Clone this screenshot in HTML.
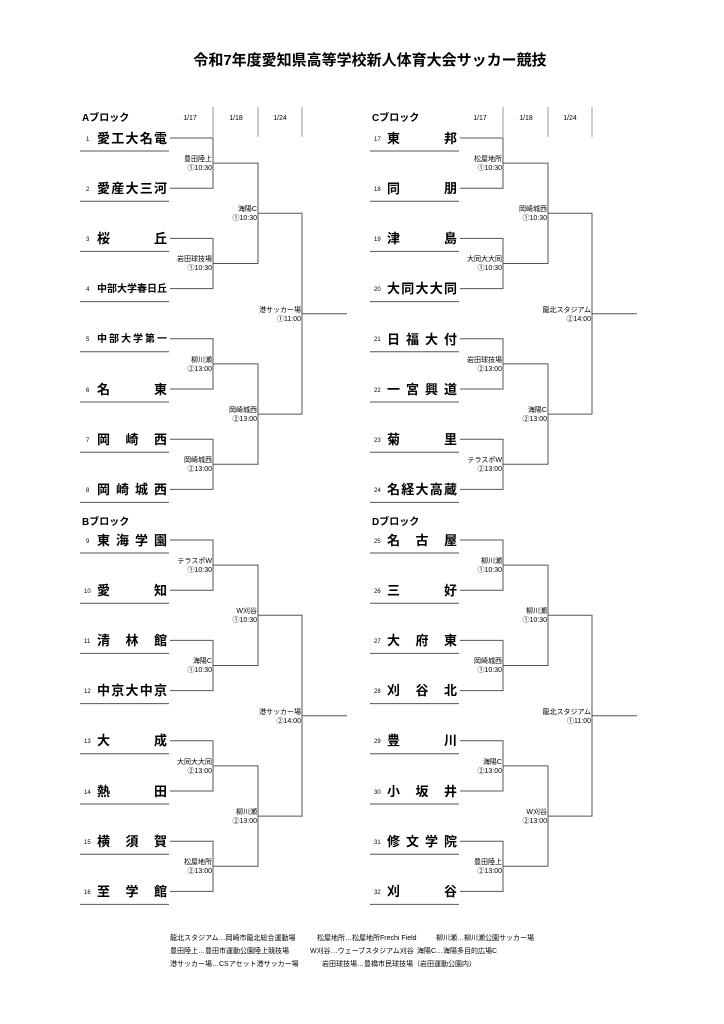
<!DOCTYPE html>
<html><head><meta charset="utf-8"><style>
body{margin:0;background:#fff}
svg{display:block;font-family:"Liberation Sans","Noto Sans CJK JP",sans-serif}
.t{font-size:13px;font-weight:bold}
.n{font-size:6px}
.v{font-size:7px;text-anchor:end}
.h{font-size:10px;font-weight:bold}
.d{font-size:7px;text-anchor:middle}
.f{font-size:7px}
</style></head><body>
<svg width="724" height="1024" viewBox="0 0 724 1024" xmlns="http://www.w3.org/2000/svg">
<text x="370" y="65" font-size="15" font-weight="bold" text-anchor="middle">令和7年度愛知県高等学校新人体育大会サッカー競技</text>
<g stroke="#999" stroke-width="1">
<line x1="213" y1="107" x2="213" y2="137"/><line x1="258" y1="107" x2="258" y2="137"/><line x1="302" y1="107" x2="302" y2="137"/>
<line x1="503" y1="107" x2="503" y2="137"/><line x1="548" y1="107" x2="548" y2="137"/><line x1="592" y1="107" x2="592" y2="137"/>
</g>
<text class="h" x="82" y="121">Aブロック</text><text class="h" x="372" y="121">Cブロック</text>
<text class="h" x="82" y="525">Bブロック</text><text class="h" x="372" y="525">Dブロック</text>
<text class="d" x="190" y="120">1/17</text><text class="d" x="236" y="120">1/18</text><text class="d" x="280" y="120">1/24</text>
<text class="d" x="480" y="120">1/17</text><text class="d" x="526" y="120">1/18</text><text class="d" x="570" y="120">1/24</text>

<g stroke="#555" stroke-width="1" fill="none">
<!-- A -->
<path d="M170 138H213V188.2H170 M170 238.4H213V288.6H170 M170 338.8H213V389H170 M170 439.2H213V489.4H170"/>
<path d="M213 163.1H258V263.5H213 M213 363.9H258V464.3H213 M258 213.3H302V414.1H258 M302 313.7H347"/>
<path d="M80 151H169 M80 201.2H169 M80 251.4H169 M80 301.6H169 M80 351.8H169 M80 402H169 M80 452.2H169 M80 502.4H169"/>
<!-- B -->
<path d="M170 540H213V590.2H170 M170 640.4H213V690.6H170 M170 740.8H213V791H170 M170 841.2H213V891.4H170"/>
<path d="M213 565.1H258V665.5H213 M213 765.9H258V866.3H213 M258 615.3H302V816.1H258 M302 715.7H347"/>
<path d="M80 553H169 M80 603.2H169 M80 653.4H169 M80 703.6H169 M80 753.8H169 M80 804H169 M80 854.2H169 M80 904.4H169"/>
<!-- C -->
<path d="M460 138H503V188.2H460 M460 238.4H503V288.6H460 M460 338.8H503V389H460 M460 439.2H503V489.4H460"/>
<path d="M503 163.1H548V263.5H503 M503 363.9H548V464.3H503 M548 213.3H592V414.1H548 M592 313.7H637"/>
<path d="M370 151H459 M370 201.2H459 M370 251.4H459 M370 301.6H459 M370 351.8H459 M370 402H459 M370 452.2H459 M370 502.4H459"/>
<!-- D -->
<path d="M460 540H503V590.2H460 M460 640.4H503V690.6H460 M460 740.8H503V791H460 M460 841.2H503V891.4H460"/>
<path d="M503 565.1H548V665.5H503 M503 765.9H548V866.3H503 M548 615.3H592V816.1H548 M592 715.7H637"/>
<path d="M370 553H459 M370 603.2H459 M370 653.4H459 M370 703.6H459 M370 753.8H459 M370 804H459 M370 854.2H459 M370 904.4H459"/>
</g>

<!-- team numbers -->
<g class="n">
<text x="86" y="141">1</text><text x="86" y="191">2</text><text x="86" y="241">3</text><text x="86" y="291">4</text><text x="86" y="341">5</text><text x="86" y="392">6</text><text x="86" y="442">7</text><text x="86" y="492">8</text>
<text x="86" y="543">9</text><text x="84" y="593">10</text><text x="84" y="643">11</text><text x="84" y="693">12</text><text x="84" y="743">13</text><text x="84" y="794">14</text><text x="84" y="844">15</text><text x="84" y="894">16</text>
<text x="374" y="141">17</text><text x="374" y="191">18</text><text x="374" y="241">19</text><text x="374" y="291">20</text><text x="374" y="341">21</text><text x="374" y="392">22</text><text x="374" y="442">23</text><text x="374" y="492">24</text>
<text x="374" y="543">25</text><text x="374" y="593">26</text><text x="374" y="643">27</text><text x="374" y="693">28</text><text x="374" y="743">29</text><text x="374" y="794">30</text><text x="374" y="844">31</text><text x="374" y="894">32</text>
</g>
<!-- team names -->
<g class="t">
<text x="97" y="143" textLength="70" lengthAdjust="spacing">愛工大名電</text>
<text x="97" y="193" textLength="70" lengthAdjust="spacing">愛産大三河</text>
<text x="97" y="243" textLength="70" lengthAdjust="spacing">桜丘</text>
<text x="97" y="292" font-size="10" textLength="70" lengthAdjust="spacingAndGlyphs">中部大学春日丘</text>
<text x="97" y="342" font-size="10" textLength="70" lengthAdjust="spacing">中部大学第一</text>
<text x="97" y="394" textLength="70" lengthAdjust="spacing">名東</text>
<text x="97" y="444" textLength="70" lengthAdjust="spacing">岡崎西</text>
<text x="97" y="494" textLength="70" lengthAdjust="spacing">岡崎城西</text>
<text x="97" y="545" textLength="70" lengthAdjust="spacing">東海学園</text>
<text x="97" y="595" textLength="70" lengthAdjust="spacing">愛知</text>
<text x="97" y="645" textLength="70" lengthAdjust="spacing">清林館</text>
<text x="97" y="695" textLength="70" lengthAdjust="spacing">中京大中京</text>
<text x="97" y="745" textLength="70" lengthAdjust="spacing">大成</text>
<text x="97" y="796" textLength="70" lengthAdjust="spacing">熱田</text>
<text x="97" y="846" textLength="70" lengthAdjust="spacing">横須賀</text>
<text x="97" y="896" textLength="70" lengthAdjust="spacing">至学館</text>
<text x="387" y="143" textLength="70" lengthAdjust="spacing">東邦</text>
<text x="387" y="193" textLength="70" lengthAdjust="spacing">同朋</text>
<text x="387" y="243" textLength="70" lengthAdjust="spacing">津島</text>
<text x="387" y="293" textLength="70" lengthAdjust="spacing">大同大大同</text>
<text x="387" y="344" textLength="70" lengthAdjust="spacing">日福大付</text>
<text x="387" y="394" textLength="70" lengthAdjust="spacing">一宮興道</text>
<text x="387" y="444" textLength="70" lengthAdjust="spacing">菊里</text>
<text x="387" y="494" textLength="70" lengthAdjust="spacing">名経大高蔵</text>
<text x="387" y="545" textLength="70" lengthAdjust="spacing">名古屋</text>
<text x="387" y="595" textLength="70" lengthAdjust="spacing">三好</text>
<text x="387" y="645" textLength="70" lengthAdjust="spacing">大府東</text>
<text x="387" y="695" textLength="70" lengthAdjust="spacing">刈谷北</text>
<text x="387" y="745" textLength="70" lengthAdjust="spacing">豊川</text>
<text x="387" y="796" textLength="70" lengthAdjust="spacing">小坂井</text>
<text x="387" y="846" textLength="70" lengthAdjust="spacing">修文学院</text>
<text x="387" y="896" textLength="70" lengthAdjust="spacing">刈谷</text>
</g>
<!-- venues -->
<g class="v">
<text x="212" y="161">豊田陸上</text><text x="212" y="170">①10:30</text>
<text x="212" y="261">岩田球技場</text><text x="212" y="270">①10:30</text>
<text x="212" y="362">柳川瀬</text><text x="212" y="371">②13:00</text>
<text x="212" y="462">岡崎城西</text><text x="212" y="471">②13:00</text>
<text x="257" y="211">海陽C</text><text x="257" y="220">①10:30</text>
<text x="257" y="412">岡崎城西</text><text x="257" y="421">②13:00</text>
<text x="301" y="312">港サッカー場</text><text x="301" y="321">①11:00</text>

<text x="212" y="563">テラスポW</text><text x="212" y="572">①10:30</text>
<text x="212" y="663">海陽C</text><text x="212" y="672">①10:30</text>
<text x="212" y="764">大同大大同</text><text x="212" y="773">②13:00</text>
<text x="212" y="864">松屋地所</text><text x="212" y="873">②13:00</text>
<text x="257" y="613">W刈谷</text><text x="257" y="622">①10:30</text>
<text x="257" y="814">柳川瀬</text><text x="257" y="823">②13:00</text>
<text x="301" y="714">港サッカー場</text><text x="301" y="723">②14:00</text>

<text x="502" y="161">松屋地所</text><text x="502" y="170">①10:30</text>
<text x="502" y="261">大同大大同</text><text x="502" y="270">①10:30</text>
<text x="502" y="362">岩田球技場</text><text x="502" y="371">②13:00</text>
<text x="502" y="462">テラスポW</text><text x="502" y="471">②13:00</text>
<text x="547" y="211">岡崎城西</text><text x="547" y="220">①10:30</text>
<text x="547" y="412">海陽C</text><text x="547" y="421">②13:00</text>
<text x="591" y="312">龍北スタジアム</text><text x="591" y="321">②14:00</text>

<text x="502" y="563">柳川瀬</text><text x="502" y="572">①10:30</text>
<text x="502" y="663">岡崎城西</text><text x="502" y="672">①10:30</text>
<text x="502" y="764">海陽C</text><text x="502" y="773">②13:00</text>
<text x="502" y="864">豊田陸上</text><text x="502" y="873">②13:00</text>
<text x="547" y="613">柳川瀬</text><text x="547" y="622">①10:30</text>
<text x="547" y="814">W刈谷</text><text x="547" y="823">②13:00</text>
<text x="591" y="714">龍北スタジアム</text><text x="591" y="723">①11:00</text>
</g>
<!-- footer -->
<g class="f">
<text x="170" y="940">龍北スタジアム…岡崎市龍北総合運動場</text>
<text x="317" y="940">松屋地所…松屋地所Frechi Field</text>
<text x="436" y="940">柳川瀬…柳川瀬公園サッカー場</text>
<text x="170" y="953">豊田陸上…豊田市運動公園陸上競技場</text>
<text x="310" y="953">W刈谷…ウェーブスタジアム刈谷</text>
<text x="417" y="953">海陽C…海陽多目的広場C</text>
<text x="170" y="966">港サッカー場…CSアセット港サッカー場</text>
<text x="322" y="966">岩田球技場…豊橋市民球技場（岩田運動公園内）</text>
</g>
</svg>
</body></html>
